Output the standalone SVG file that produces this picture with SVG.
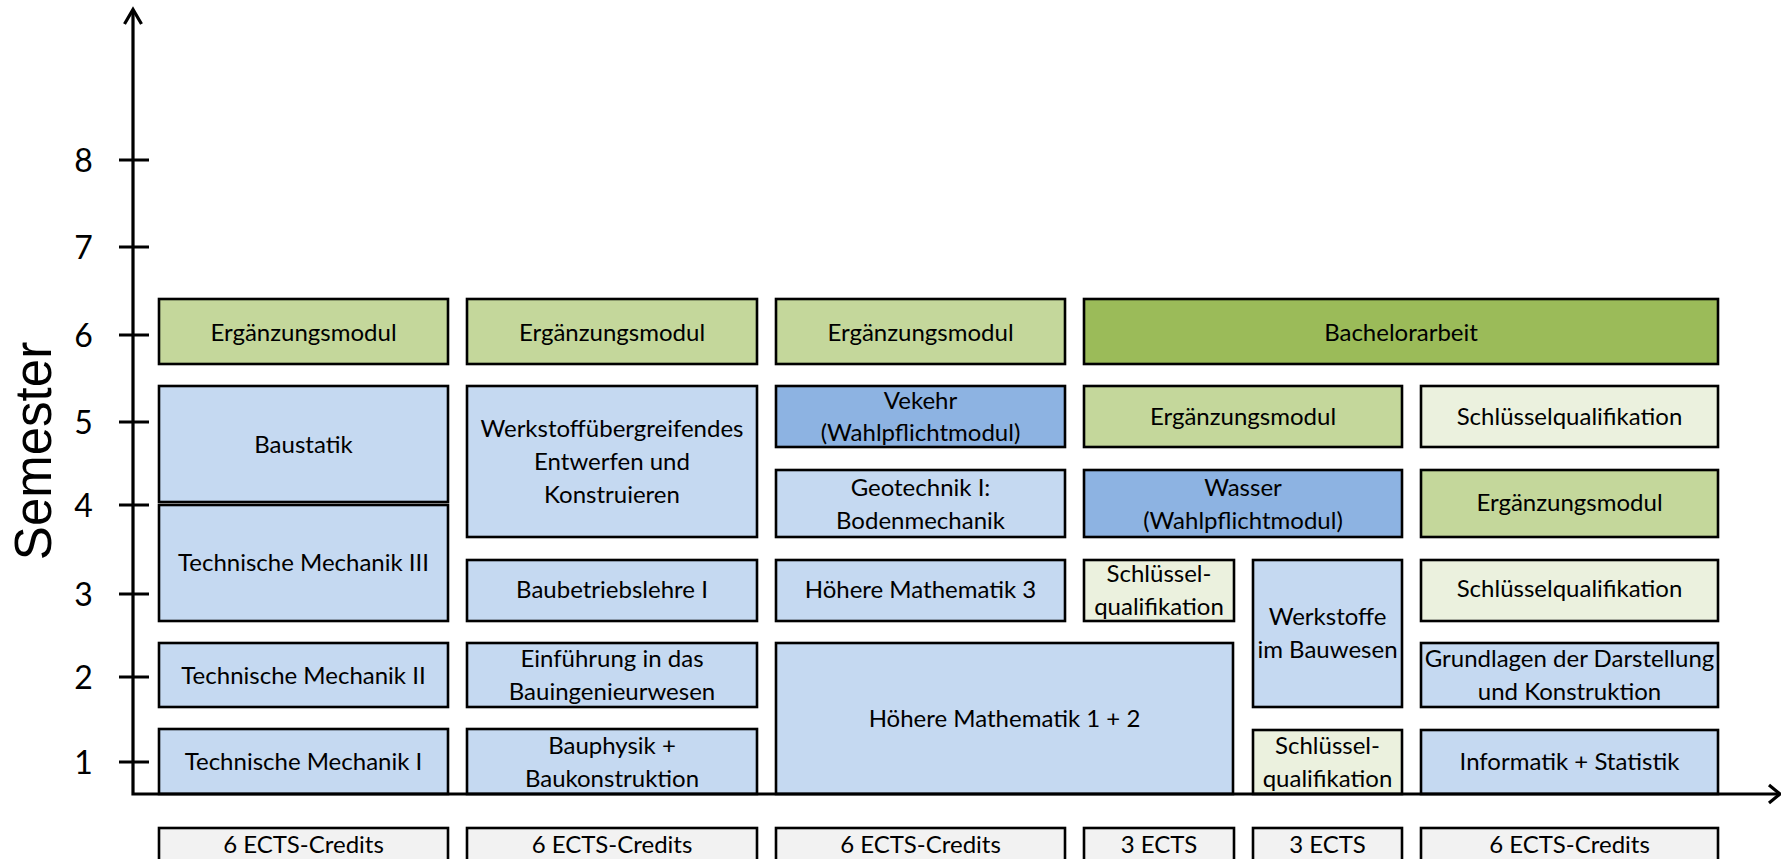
<svg xmlns="http://www.w3.org/2000/svg" width="1781" height="859" viewBox="0 0 1781 859">
<style>
.b{stroke:#000;stroke-width:2.6}
.lg{fill:#c4d79b}
.dg{fill:#9bbb59}
.lb{fill:#c5d9f1}
.mb{fill:#8db3e2}
.pq{fill:#ebf1de}
.gr{fill:#f2f2f2}
text{font-family:Lato,"Noto Sans",sans-serif;font-size:24px;fill:#000;text-anchor:middle}
.num{font-size:32px}
.ax{stroke:#000;stroke-width:3.2;fill:none}
</style>
<rect width="1781" height="859" fill="#fff"/>

<g id="n-erg1"><rect class="b lg" x="159" y="299" width="289" height="65"/><text x="303.5" y="341">Ergänzungsmodul</text></g>
<g id="n-erg2"><rect class="b lg" x="467" y="299" width="290" height="65"/><text x="612" y="341">Ergänzungsmodul</text></g>
<g id="n-erg3"><rect class="b lg" x="776" y="299" width="289" height="65"/><text x="920.5" y="341">Ergänzungsmodul</text></g>
<g id="n-bachelor"><rect class="b dg" x="1084" y="299" width="634" height="65"/><text x="1401" y="341">Bachelorarbeit</text></g>

<g id="n-baustatik"><rect class="b lb" x="159" y="386" width="289" height="116"/><text x="303.5" y="453">Baustatik</text></g>
<g id="n-tm3"><rect class="b lb" x="159" y="505" width="289" height="116"/><text x="303.5" y="571">Technische Mechanik III</text></g>
<g id="n-tm2"><rect class="b lb" x="159" y="643" width="289" height="64"/><text x="303.5" y="684">Technische Mechanik II</text></g>
<g id="n-tm1"><rect class="b lb" x="159" y="729" width="289" height="65"/><text x="303.5" y="770">Technische Mechanik I</text></g>

<g id="n-werkstoffueb"><rect class="b lb" x="467" y="386" width="290" height="151"/><text x="612" y="437">Werkstoffübergreifendes</text><text x="612" y="470">Entwerfen und</text><text x="612" y="503">Konstruieren</text></g>
<g id="n-baubetrieb"><rect class="b lb" x="467" y="560" width="290" height="61"/><text x="612" y="598">Baubetriebslehre I</text></g>
<g id="n-einfuehrung"><rect class="b lb" x="467" y="643" width="290" height="64"/><text x="612" y="667">Einführung in das</text><text x="612" y="700">Bauingenieurwesen</text></g>
<g id="n-bauphysik"><rect class="b lb" x="467" y="729" width="290" height="65"/><text x="612" y="754">Bauphysik +</text><text x="612" y="787">Baukonstruktion</text></g>

<g id="n-verkehr"><rect class="b mb" x="776" y="386" width="289" height="61"/><text x="920.5" y="409">Vekehr</text><text x="920.5" y="441">(Wahlpflichtmodul)</text></g>
<g id="n-geotechnik"><rect class="b lb" x="776" y="470" width="289" height="67"/><text x="920.5" y="496">Geotechnik I:</text><text x="920.5" y="529">Bodenmechanik</text></g>
<g id="n-hm3"><rect class="b lb" x="776" y="560" width="289" height="61"/><text x="920.5" y="598">Höhere Mathematik 3</text></g>
<g id="n-hm12"><rect class="b lb" x="776" y="643" width="457" height="151"/><text x="1004.5" y="727">Höhere Mathematik 1 + 2</text></g>

<g id="n-erg4"><rect class="b lg" x="1084" y="386" width="318" height="61"/><text x="1243" y="425">Ergänzungsmodul</text></g>
<g id="n-wasser"><rect class="b mb" x="1084" y="470" width="318" height="67"/><text x="1243" y="496">Wasser</text><text x="1243" y="529">(Wahlpflichtmodul)</text></g>
<g id="n-sq3"><rect class="b pq" x="1084" y="560" width="150" height="61"/><text x="1159" y="582">Schlüssel-</text><text x="1159" y="615">qualifikation</text></g>
<g id="n-werkstoffe"><rect class="b lb" x="1253" y="560" width="149" height="147"/><text x="1327.5" y="625">Werkstoffe</text><text x="1327.5" y="658">im Bauwesen</text></g>
<g id="n-sq1"><rect class="b pq" x="1253" y="730" width="149" height="64"/><text x="1327.5" y="754">Schlüssel-</text><text x="1327.5" y="787">qualifikation</text></g>

<g id="n-sq5"><rect class="b pq" x="1421" y="386" width="297" height="61"/><text x="1569.5" y="425">Schlüsselqualifikation</text></g>
<g id="n-erg6"><rect class="b lg" x="1421" y="470" width="297" height="67"/><text x="1569.5" y="511">Ergänzungsmodul</text></g>
<g id="n-sq6"><rect class="b pq" x="1421" y="560" width="297" height="61"/><text x="1569.5" y="597">Schlüsselqualifikation</text></g>
<g id="n-grundlagen"><rect class="b lb" x="1421" y="643" width="297" height="64"/><text x="1569.5" y="667">Grundlagen der Darstellung</text><text x="1569.5" y="700">und Konstruktion</text></g>
<g id="n-informatik"><rect class="b lb" x="1421" y="730" width="297" height="64"/><text x="1569.5" y="770">Informatik + Statistik</text></g>

<g id="ects">
<rect class="b gr" x="159" y="828" width="289" height="50"/><text x="303.5" y="853">6 ECTS-Credits</text>
<rect class="b gr" x="467" y="828" width="290" height="50"/><text x="612" y="853">6 ECTS-Credits</text>
<rect class="b gr" x="776" y="828" width="289" height="50"/><text x="920.5" y="853">6 ECTS-Credits</text>
<rect class="b gr" x="1084" y="828" width="150" height="50"/><text x="1159" y="853">3 ECTS</text>
<rect class="b gr" x="1253" y="828" width="149" height="50"/><text x="1327.5" y="853">3 ECTS</text>
<rect class="b gr" x="1421" y="828" width="297" height="50"/><text x="1569.5" y="853">6 ECTS-Credits</text>
</g>

<g id="connectors">
<path class="ax" d="M133 10 V794 H1779"/>
<path class="ax" d="M124.5 24 L133 9.5 L141.5 24"/>
<path class="ax" d="M1769 785 L1780 794 L1769 803"/>
<path class="ax" d="M119 160 H149 M119 247 H149 M119 335 H149 M119 422 H149 M119 505 H149 M119 594 H149 M119 677 H149 M119 762 H149"/>
</g>

<g id="axis-labels">
<text class="num" x="83.5" y="172">8</text>
<text class="num" x="83.5" y="259">7</text>
<text class="num" x="83.5" y="347">6</text>
<text class="num" x="83.5" y="434">5</text>
<text class="num" x="83.5" y="517">4</text>
<text class="num" x="83.5" y="606">3</text>
<text class="num" x="83.5" y="689">2</text>
<text class="num" x="83.5" y="774">1</text>
<text x="51" y="451" transform="rotate(-90 51 451)" style="font-family:'Liberation Sans',Arial,sans-serif;font-size:51px">Semester</text>
</g>
</svg>
